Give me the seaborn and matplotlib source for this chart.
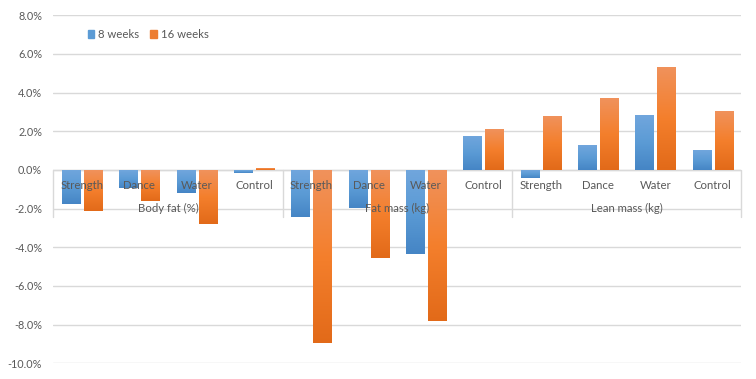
import numpy as np
import pandas as pd
import matplotlib
matplotlib.use("Agg")
import matplotlib.pyplot as plt
import seaborn as sns
from matplotlib.colors import LinearSegmentedColormap
from matplotlib.patches import Rectangle
from matplotlib.ticker import FuncFormatter

measures = ["Body fat (%)", "Fat mass (kg)", "Lean mass (kg)"]
groups = ["Strength", "Dance", "Water", "Control"]
periods = ["8 weeks", "16 weeks"]
weeks8 = [-1.76, -0.93, -1.17, -0.14,
          -2.41, -1.97, -4.35, 1.76,
          -0.40, 1.29, 2.84, 1.03]
weeks16 = [-2.12, -1.60, -2.79, 0.10,
           -8.93, -4.53, -7.81, 2.12,
           2.79, 3.72, 5.33, 3.05]
yticks = [-10, -8, -6, -4, -2, 0, 2, 4, 6, 8]

rows = []
i = 0
for m in measures:
    for g in groups:
        key = f"{m}|{g}"
        rows.append((key, m, g, periods[0], weeks8[i]))
        rows.append((key, m, g, periods[1], weeks16[i]))
        i += 1
df = pd.DataFrame(rows, columns=["key", "measure", "group", "period", "value"])
order = list(dict.fromkeys(df["key"]))

sns.set_style("white")
plt.rcParams["font.family"] = ["Lato", "DejaVu Sans"]
txt = "#595959"
grid_c = "#d9d9d9"

fig = plt.figure(figsize=(7.56, 3.79), dpi=100)
ax = fig.add_axes([0.0705, 0.0414, 0.9103, 0.9182])

blue = "#5b9bd5"
orange = "#ed7d31"
sns.barplot(data=df, x="key", y="value", hue="period", order=order,
            hue_order=periods, palette=[blue, orange], width=0.767, gap=0.17,
            ax=ax, legend=False, zorder=2, linewidth=0)

ax.set_xlim(-0.5, len(order) - 0.5)
ax.set_ylim(-10, 8)
ax.set_yticks(yticks)
ax.yaxis.set_major_formatter(FuncFormatter(lambda v, p: f"{v:.1f}%"))
ax.tick_params(axis="y", length=0, labelsize=7.8, labelcolor=txt, pad=8)
ax.set_xticks([])
ax.set_xlabel("")
ax.set_ylabel("")
for s in ax.spines.values():
    s.set_visible(False)
ax.grid(axis="y", color=grid_c, linewidth=1, zorder=0)
ax.set_axisbelow(True)
ax.axhline(0, color=grid_c, linewidth=1, zorder=1)

# gradient fills
cmaps = {
    0: LinearSegmentedColormap.from_list("b", ["#4585c5", "#5b9bd5", "#71a6dd"]),
    1: LinearSegmentedColormap.from_list("o", ["#e26a19", "#f47f2c", "#f0925c"]),
}
grad = np.linspace(0, 1, 256).reshape(-1, 1)
n = len(order)
for k, patch in enumerate(ax.patches[:2 * n]):
    hue_idx = k // n
    x0 = patch.get_x()
    w = patch.get_width()
    y0 = patch.get_y()
    h = patch.get_height()
    lo, hi = min(y0, y0 + h), max(y0, y0 + h)
    if hi - lo <= 0:
        continue
    im = ax.imshow(grad, cmap=cmaps[hue_idx], origin="lower", aspect="auto",
                   extent=[x0, x0 + w, lo, hi], zorder=3, interpolation="bilinear")
    im.set_clip_path(patch)
    patch.set_alpha(0)
ax.set_xlim(-0.5, n - 0.5)
ax.set_ylim(-10, 8)

# multi-level category labels
for pos, key in enumerate(order):
    g = key.split("|")[1]
    ax.annotate(g, xy=(pos, 0), xytext=(0, -11), textcoords="offset points",
                ha="center", va="center", fontsize=8.2, color=txt, zorder=5)
for j, m in enumerate(measures):
    center = j * len(groups) + (len(groups) - 1) / 2
    ax.annotate(m, xy=(center, 0), xytext=(0, -27.5), textcoords="offset points",
                ha="center", va="center", fontsize=8.2, color=txt, zorder=5)
for j in range(len(measures) + 1):
    xb = j * len(groups) - 0.5
    ax.plot([xb, xb], [0, -2.43], color=grid_c, linewidth=1, zorder=1,
            clip_on=False)

handles = [Rectangle((0, 0), 1, 1, color=blue), Rectangle((0, 0), 1, 1, color=orange)]
leg = ax.legend(handles, periods, loc="upper left", bbox_to_anchor=(0.035, 0.99),
                ncol=2, frameon=False, fontsize=8.2, handlelength=0.6,
                handleheight=0.6, handletextpad=0.3, columnspacing=1.0)
for t in leg.get_texts():
    t.set_color(txt)

fig.savefig("out.png", dpi=100, facecolor="white")
